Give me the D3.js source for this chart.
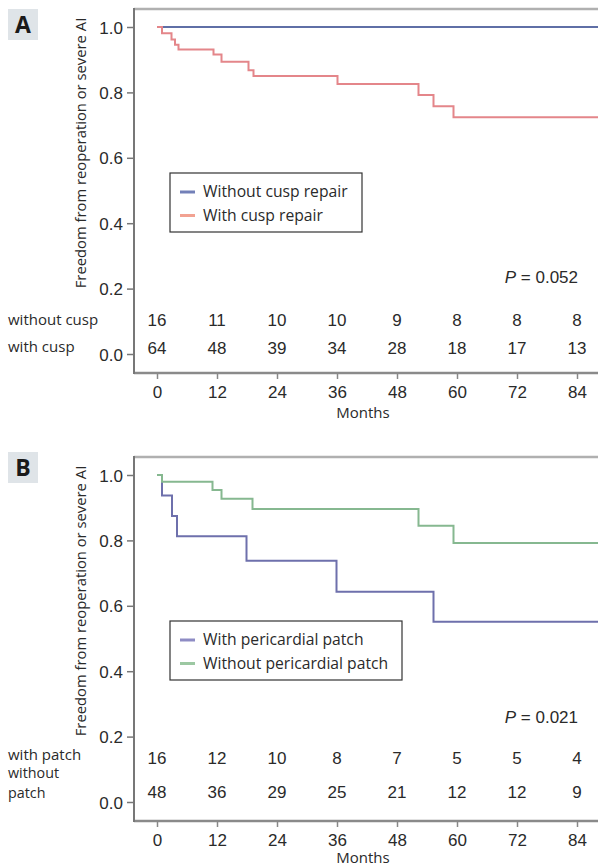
<!DOCTYPE html>
<html>
<head>
<meta charset="utf-8">
<script src="https://cdn.jsdelivr.net/npm/d3@7"></script>
<style>
  body { margin: 0; background: #fff; }
  svg { display: block; }
  .num { font-family: "Liberation Sans", Arial, sans-serif; font-size: 17px; fill: #2a2a2a; }
  .lab { font-family: "Open Sans", sans-serif; font-size: 15px; fill: #2a2a2a; }
</style>
</head>
<body>
<svg id="chart" width="598" height="868"></svg>
<script>
// months shown on the x axis
const monthTicks = [0, 12, 24, 36, 48, 60, 72, 84];
const survTicks = [0, 0.2, 0.4, 0.6, 0.8, 1.0];

// panel A: Kaplan-Meier steps [month, survival]
const withoutCusp = [[0, 1.0], [90, 1.0]];
const withCusp = [
  [0, 1.0], [1, 0.981], [2.9, 0.962], [3.6, 0.946], [4.3, 0.931],
  [11.3, 0.916], [12.9, 0.894], [18.3, 0.868], [19.3, 0.85],
  [36.1, 0.826], [52.3, 0.792], [55.3, 0.758], [59.3, 0.724], [90, 0.724]
];
const riskWithoutCusp = [16, 11, 10, 10, 9, 8, 8, 8];
const riskWithCusp = [64, 48, 39, 34, 28, 18, 17, 13];

// panel B
const withPatch = [
  [0, 1.0], [1, 0.9375], [3, 0.875], [4, 0.8125], [17.9, 0.738],
  [35.9, 0.643], [55.3, 0.551], [90, 0.551]
];
const withoutPatch = [
  [0, 1.0], [1, 0.979], [11.1, 0.954], [12.9, 0.927], [19.1, 0.896],
  [52.3, 0.845], [59.3, 0.792], [90, 0.792]
];
const riskWithPatch = [16, 12, 10, 8, 7, 5, 5, 4];
const riskWithoutPatch = [48, 36, 29, 25, 21, 12, 12, 9];

const svg = d3.select("#chart");

function panel(opt) {
  const g = svg.append("g").attr("transform", "translate(0," + opt.dy + ")");
  const x = d3.scaleLinear().domain([0, 84]).range([157, 577]);
  const y = d3.scaleLinear().domain([0, 1]).range([354, 27]);
  const left = 134, top = 9, bottom = 373;

  // panel letter
  g.append("rect").attr("x", 8).attr("y", opt.boxY).attr("width", 30).attr("height", 31).attr("fill", "#dfe4e8");
  g.append("text").attr("x", 23).attr("y", opt.boxY + 24).attr("text-anchor", "middle")
    .style("font-family", "'Open Sans', sans-serif").style("font-weight", "700").style("font-size", "23px")
    .attr("fill", "#1a1a1a").text(opt.letter);

  // frame
  g.append("line").attr("x1", left).attr("x2", 598).attr("y1", top).attr("y2", top)
    .attr("stroke", "#b0b0b0").attr("stroke-width", 2.5);
  g.append("line").attr("x1", left).attr("x2", 598).attr("y1", bottom).attr("y2", bottom)
    .attr("stroke", "#8a8a8a").attr("stroke-width", 2.5);
  g.append("line").attr("x1", left).attr("x2", left).attr("y1", top - 1).attr("y2", bottom + 1)
    .attr("stroke", "#777").attr("stroke-width", 2);

  // y axis ticks
  const ya = g.append("g").attr("transform", "translate(" + left + ",0)")
    .call(d3.axisLeft(y).tickValues(survTicks).tickSize(7).tickPadding(4).tickFormat(d3.format(".1f")));
  ya.select(".domain").remove();
  ya.selectAll(".tick line").attr("stroke", "#777").attr("stroke-width", 1.5);
  ya.selectAll(".tick text").attr("class", "num").attr("fill", "#333").attr("dy", "0.36em");

  // x axis ticks
  const xa = g.append("g").attr("transform", "translate(0," + bottom + ")")
    .call(d3.axisBottom(x).tickValues(monthTicks).tickSize(6).tickPadding(6));
  xa.select(".domain").remove();
  xa.selectAll(".tick line").attr("stroke", "#888").attr("stroke-width", 1.5);
  xa.selectAll(".tick text").attr("class", "num").attr("fill", "#333").attr("dy", "0.75em");

  g.append("text").attr("class", "lab").attr("x", 363).attr("y", opt.monthsY).attr("text-anchor", "middle").text("Months");

  g.append("text").attr("class", "lab")
    .attr("transform", "translate(86," + opt.titleY + ") rotate(-90)")
    .attr("text-anchor", "middle").style("font-size", "14.8px")
    .text("Freedom from reoperation or severe AI");

  // curves
  const line = d3.line().x(d => x(d[0])).y(d => y(d[1])).curve(d3.curveStepAfter);
  opt.series.forEach(s => {
    g.append("path").datum(s.data).attr("d", line).attr("fill", "none")
      .attr("stroke", s.color).attr("stroke-width", 2);
  });

  // legend
  const lg = g.append("g");
  lg.append("rect").attr("x", 170).attr("y", opt.legY).attr("width", opt.legW).attr("height", 59)
    .attr("fill", "#fff").attr("stroke", "#333").attr("stroke-width", 1.2);
  opt.series.forEach((s, i) => {
    const ly = opt.legY + 19 + i * 23.5;
    lg.append("line").attr("x1", 180).attr("x2", 195).attr("y1", ly).attr("y2", ly)
      .attr("stroke", s.swatch).attr("stroke-width", 3);
    lg.append("text").attr("class", "lab").style("font-size", "15.7px")
      .attr("x", 203).attr("y", ly).attr("dy", "0.35em").text(s.name);
  });

  // p value
  const pt = g.append("text").attr("class", "num").attr("x", 578).attr("y", opt.pY)
    .attr("text-anchor", "end").attr("dy", "0.35em");
  pt.append("tspan").style("font-style", "italic").text("P");
  pt.append("tspan").text(" = " + opt.p);

  // numbers at risk
  opt.risk.forEach(r => {
    g.selectAll(null).data(r.values).enter().append("text").attr("class", "num")
      .attr("x", (d, i) => x(monthTicks[i])).attr("y", r.y).attr("dy", "0.35em")
      .attr("text-anchor", "middle").text(d => d);
    r.label.forEach((t, j) => {
      g.append("text").attr("class", "lab").style("font-size", r.size || "15px")
        .attr("x", 8).attr("y", r.labelY + j * 19.5).attr("dy", "0.35em").text(t);
    });
  });
}

panel({
  dy: 0, letter: "A", boxY: 9, titleY: 153, legY: 173, legW: 192, pY: 277, p: "0.052", monthsY: 418,
  series: [
    { name: "Without cusp repair", data: withoutCusp, color: "#5f6fa6", swatch: "#7380b8" },
    { name: "With cusp repair", data: withCusp, color: "#e4868a", swatch: "#f2a292" }
  ],
  risk: [
    { values: riskWithoutCusp, y: 320, label: ["without cusp"], labelY: 320 },
    { values: riskWithCusp, y: 348, label: ["with cusp"], labelY: 347 }
  ]
});

panel({
  dy: 448, letter: "B", boxY: 4, titleY: 153, legY: 173, legW: 232, pY: 269, p: "0.021", monthsY: 415,
  series: [
    { name: "With pericardial patch", data: withPatch, color: "#6e70ac", swatch: "#8e8cc4" },
    { name: "Without pericardial patch", data: withoutPatch, color: "#86b890", swatch: "#9cc8a2" }
  ],
  risk: [
    { values: riskWithPatch, y: 310, label: ["with patch"], labelY: 307 },
    { values: riskWithoutPatch, y: 344, label: ["without", "patch"], labelY: 325, size: "14.3px" }
  ]
});
</script>
</body>
</html>
